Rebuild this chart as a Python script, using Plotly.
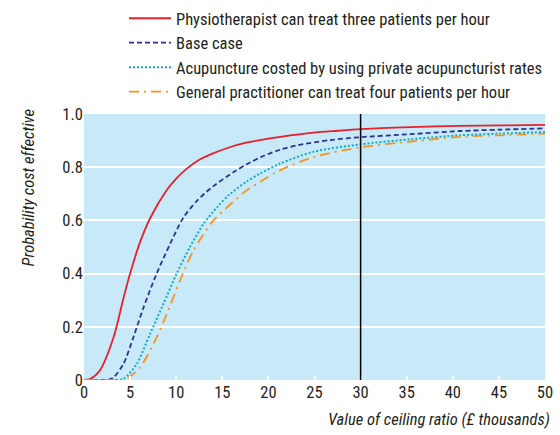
import plotly.graph_objects as go

physio_x = [0, 0.65, 1.7, 3.2, 4.3, 5.0, 6.1, 7.2, 9.0, 10.0, 11.0, 12.5, 14.0, 15.8, 17.6, 19.1, 21.3, 24.9, 27.5, 30, 35.4, 40.8, 45, 50]
physio = [0.0, 0.004, 0.035, 0.16, 0.31, 0.40, 0.52, 0.61, 0.715, 0.757, 0.79, 0.828, 0.852, 0.875, 0.892, 0.902, 0.914, 0.93, 0.937, 0.943, 0.951, 0.955, 0.957, 0.959]
base_x = [0, 2.5, 3.2, 4.27, 5.35, 6.43, 7.88, 9.32, 10.77, 12.2, 14.0, 16.2, 17.6, 19.45, 21.3, 23.1, 26.7, 30, 35.4, 40.8, 45, 50]
base = [0.0, 0.0, 0.01, 0.06, 0.16, 0.27, 0.40, 0.51, 0.61, 0.672, 0.728, 0.781, 0.81, 0.842, 0.866, 0.882, 0.902, 0.913, 0.924, 0.936, 0.941, 0.946]
acu_x = [0, 3.5, 4.27, 5.71, 7.16, 8.6, 10.05, 11.5, 12.94, 14.4, 15.8, 17.6, 19.1, 21.3, 24.9, 30, 35.4, 40.8, 45, 50]
acu = [0.0, 0.0, 0.004, 0.06, 0.173, 0.285, 0.40, 0.50, 0.586, 0.648, 0.698, 0.745, 0.776, 0.814, 0.858, 0.886, 0.905, 0.92, 0.926, 0.932]
gp_x = [0, 4.0, 4.6, 6.07, 7.88, 8.97, 10.4, 11.86, 14.0, 15.8, 17.6, 19.1, 21.3, 24.9, 30, 35.4, 40.8, 45, 50]
gp = [0.0, 0.0, 0.004, 0.047, 0.16, 0.248, 0.373, 0.486, 0.598, 0.658, 0.712, 0.745, 0.789, 0.838, 0.875, 0.896, 0.914, 0.92, 0.926]

names = [
    "Physiotherapist can treat three patients per hour",
    "Base case",
    "Acupuncture costed by using private acupuncturist rates",
    "General practitioner can treat four patients per hour",
]
threshold = 30
y_ticks = [0, 0.2, 0.4, 0.6, 0.8, 1.0]
y_ticktext = ["0", "0.2", "0.4", "0.6", "0.8", "1.0"]
x_ticks = list(range(0, 51, 5))

FONT = "Roboto Condensed, sans-serif"
FS = 16.5
TXT = "#231f20"

fig = go.Figure()
fig.add_trace(go.Scatter(x=physio_x, y=physio, name=names[0], mode="lines",
                         line=dict(color="#e8202a", width=1.8, shape="spline", smoothing=0.8)))
fig.add_trace(go.Scatter(x=base_x, y=base, name=names[1], mode="lines",
                         line=dict(color="#2e3192", width=1.8, dash="5px,3px", shape="spline", smoothing=0.8)))
fig.add_trace(go.Scatter(x=acu_x, y=acu, name=names[2], mode="lines",
                         line=dict(color="#12abc4", width=2, dash="2px,2px", shape="spline", smoothing=0.8)))
fig.add_trace(go.Scatter(x=gp_x, y=gp, name=names[3], mode="lines",
                         line=dict(color="#f7941d", width=1.8, dash="10px,5px,2px,5px", shape="spline", smoothing=0.8)))

fig.add_shape(type="line", x0=threshold, x1=threshold, y0=0, y1=1, xref="x", yref="y",
              line=dict(color="black", width=1.5), layer="above")

fig.add_annotation(text="<i>Value of ceiling ratio (£ thousands)</i>", xref="paper", yref="paper",
                   x=1.016, y=-0.15, xanchor="right", yanchor="middle", showarrow=False,
                   font=dict(size=FS, family=FONT, color=TXT))
fig.add_annotation(text="<i>Probability cost effective</i>", xref="paper", yref="paper",
                   x=-0.1215, y=0.724, xanchor="center", yanchor="middle", textangle=-90,
                   showarrow=False, font=dict(size=FS, family=FONT, color=TXT))

fig.update_layout(
    width=560, height=435,
    margin=dict(l=84, r=15, t=114, b=55, autoexpand=False),
    paper_bgcolor="white",
    plot_bgcolor="#c8e9f8",
    font=dict(family=FONT, size=FS, color=TXT),
    showlegend=True,
    legend=dict(xref="container", yref="container", x=124 / 560, y=1 - 1 / 435,
                xanchor="left", yanchor="top",
                bgcolor="rgba(0,0,0,0)", font=dict(size=FS, family=FONT, color=TXT),
                tracegroupgap=0, itemwidth=42),
    xaxis=dict(range=[0, 50], tickvals=x_ticks, showgrid=False, zeroline=False,
               ticks="inside", ticklen=4, tickcolor="white", tickwidth=1.5,
               tickfont=dict(size=FS), showline=False, automargin=False),
    yaxis=dict(range=[0, 1.0], tickvals=y_ticks, ticktext=y_ticktext,
               showgrid=True, gridcolor="white", gridwidth=2, zeroline=False,
               ticks="", tickfont=dict(size=FS), showline=False, automargin=False),
)

fig.write_html("out.html", config={"displayModeBar": False},
               post_script="document.body.style.margin='0';document.body.style.overflow='hidden';")
